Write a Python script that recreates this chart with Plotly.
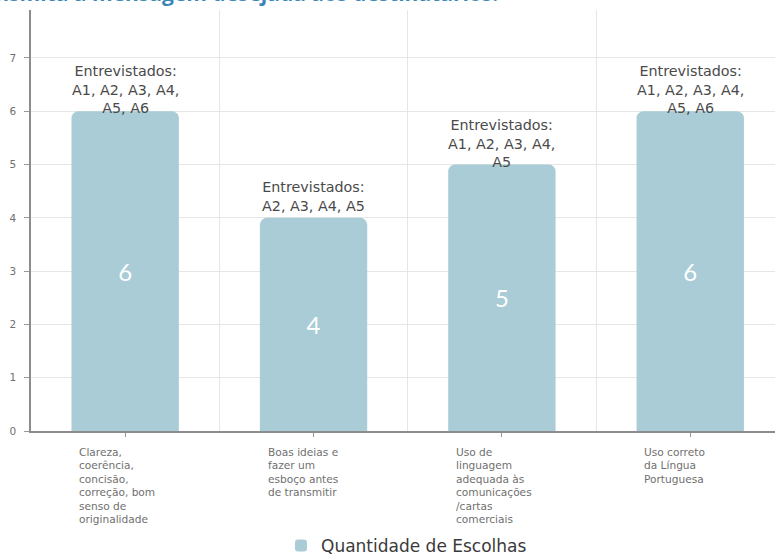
import textwrap
import plotly.graph_objects as go

# Dados do gráfico
categorias = [
    "Clareza, coerência, concisão, correção, bom senso de originalidade",
    "Boas ideias e fazer um esboço antes de transmitir",
    "Uso de linguagem adequada às comunicações /cartas comerciais",
    "Uso correto da Língua Portuguesa",
]
quantidade = [6, 4, 5, 6]
entrevistados = [
    ["A1", "A2", "A3", "A4", "A5", "A6"],
    ["A2", "A3", "A4", "A5"],
    ["A1", "A2", "A3", "A4", "A5"],
    ["A1", "A2", "A3", "A4", "A5", "A6"],
]
titulo = "transmita a mensagem desejada aos destinatários:"
serie = "Quantidade de Escolhas"
y_ticks = [0, 1, 2, 3, 4, 5, 6, 7]

BAR_COLOR = "#a9ccd6"
FONT = "DejaVu Sans"
posicoes = list(range(len(categorias)))

# Área do gráfico em pixels (para posicionar o título em coordenadas "paper")
PLOT_L, PLOT_W, PLOT_T, PLOT_H = 31, 744, 10, 421


def linhas_entrevistados(nomes, por_linha=4):
    linhas = []
    for i in range(0, len(nomes), por_linha):
        grupo = nomes[i:i + por_linha]
        sufixo = "," if i + por_linha < len(nomes) else ""
        linhas.append(", ".join(grupo) + sufixo)
    return ["Entrevistados:"] + linhas


fig = go.Figure()
fig.add_trace(go.Bar(
    x=posicoes,
    y=quantidade,
    name=serie,
    width=0.57,
    marker=dict(color=BAR_COLOR, cornerradius=7, line=dict(width=0)),
    text=[str(v) for v in quantidade],
    textposition="inside",
    insidetextanchor="middle",
    textangle=0,
    textfont=dict(family="Lato", size=24, color="white"),
    showlegend=True,
    hoverinfo="skip",
))

annotations = []
# Lista de entrevistados acima de cada barra
for x, v, nomes in zip(posicoes, quantidade, entrevistados):
    linhas = linhas_entrevistados(nomes)
    annotations.append(dict(
        x=x, y=v, xref="x", yref="y",
        text="<br>".join(linhas),
        showarrow=False, xanchor="center", yanchor="bottom",
        yshift=-7 if len(linhas) > 2 else 2,
        align="center",
        font=dict(family=FONT, size=14.3, color="#4a4a4a"),
    ))

# Rótulos das categorias, uma linha por anotação, alinhados à esquerda
for x, cat in zip(posicoes, categorias):
    for i, linha in enumerate(textwrap.wrap(cat, 13)):
        annotations.append(dict(
            x=x, y=0, xref="x", yref="y",
            text=linha,
            showarrow=False, xanchor="left", yanchor="middle",
            xshift=-48, yshift=-(21 + 13.4 * i), align="left",
            font=dict(family=FONT, size=10.6, color="#707070"),
        ))

# Título (parcialmente fora da página)
annotations.append(dict(
    x=(500 - PLOT_L) / PLOT_W, y=1 + (PLOT_T - 9) / PLOT_H,
    xref="paper", yref="paper",
    text="<b>" + titulo + "</b>", showarrow=False,
    xanchor="right", yanchor="bottom",
    font=dict(family="Open Sans", size=21, color="#3b86b6"),
))

fig.update_layout(
    width=775, height=558,
    margin=dict(l=PLOT_L, r=0, t=PLOT_T, b=558 - PLOT_T - PLOT_H, autoexpand=False),
    paper_bgcolor="white", plot_bgcolor="white",
    font=dict(family=FONT, color="#555"),
    showlegend=True,
    legend=dict(
        orientation="h",
        xref="container", yref="container",
        x=281 / 775, xanchor="left",
        y=1 - 546 / 558, yanchor="middle",
        font=dict(family=FONT, size=17, color="#3a3a3a"),
        itemwidth=30,
    ),
    annotations=annotations,
    xaxis=dict(
        range=[-0.5, 3.45],
        tickvals=posicoes, ticktext=["" for _ in posicoes],
        ticks="outside", ticklen=4, tickcolor="#999",
        showgrid=False, zeroline=False,
        showline=True, linecolor="#8c8c8c", linewidth=1.5,
        minor=dict(tickvals=[p + 0.5 for p in posicoes[:-1]],
                   showgrid=True, gridcolor="#e6e6e6", gridwidth=1,
                   ticks=""),
        fixedrange=True,
    ),
    yaxis=dict(
        range=[0, 7.9],
        tickvals=y_ticks,
        ticks="outside", ticklen=5, tickcolor="#999",
        ticklabelstandoff=6,
        tickfont=dict(family=FONT, size=10.5, color="#707070"),
        showgrid=True, gridcolor="#e6e6e6", gridwidth=1,
        zeroline=False,
        showline=True, linecolor="#8c8c8c", linewidth=1.5,
        fixedrange=True,
    ),
)

fig.write_html("out.html", config={"displayModeBar": False})
